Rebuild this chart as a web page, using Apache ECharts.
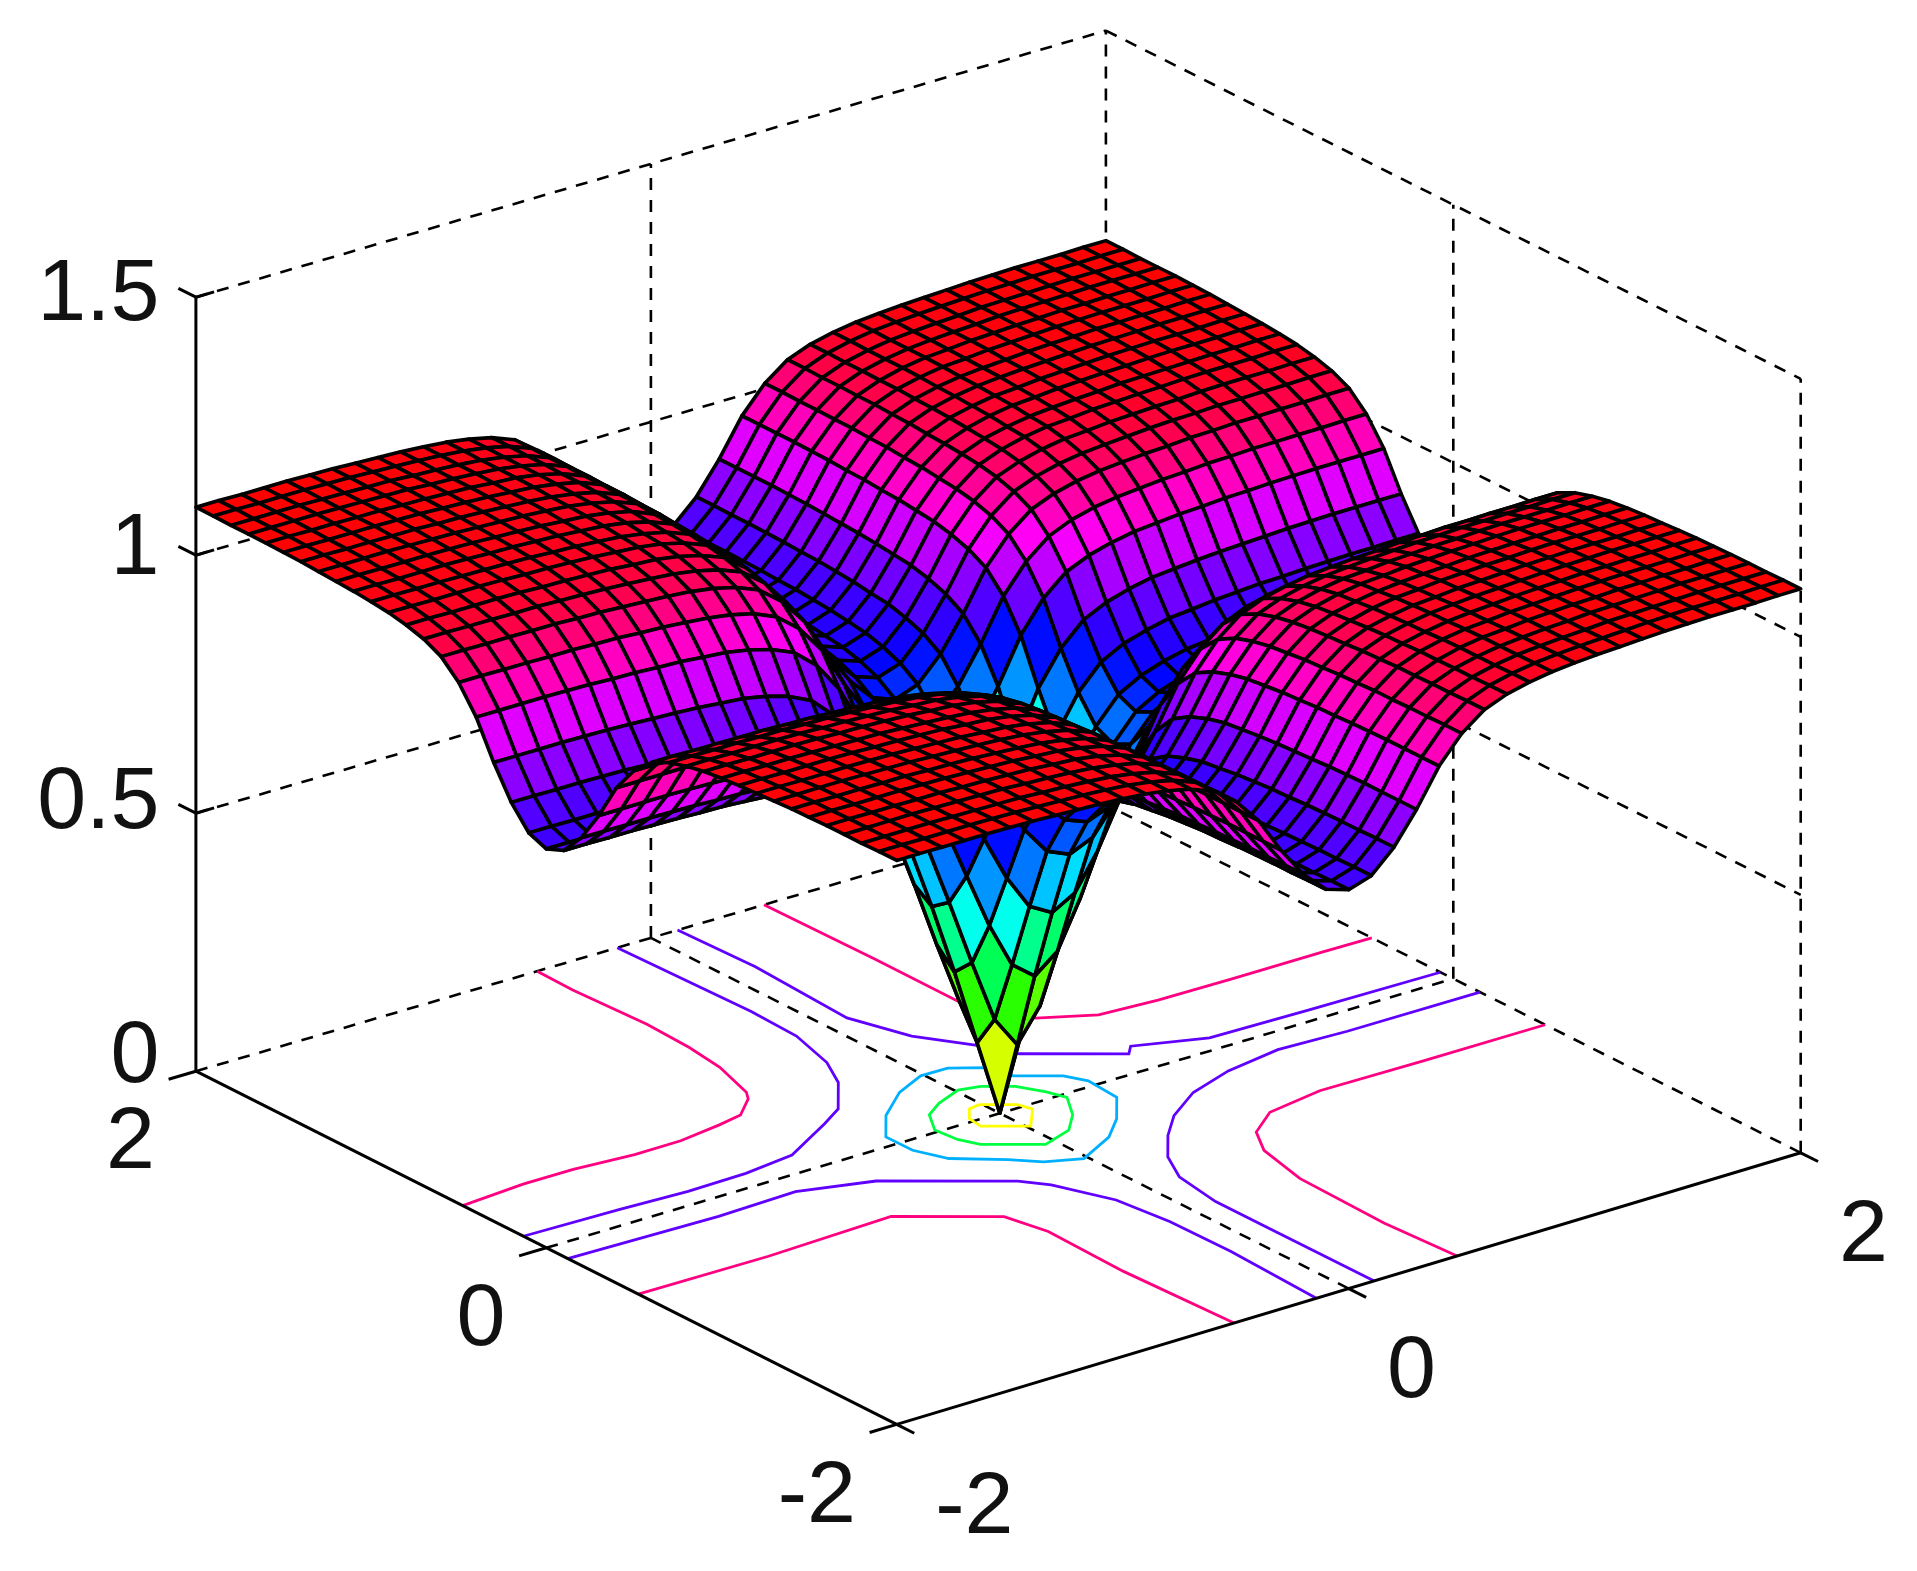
<!DOCTYPE html>
<html>
<head>
<meta charset="utf-8">
<title>Surface</title>
<script src="https://cdn.jsdelivr.net/npm/echarts@6/dist/echarts.min.js"></script>
<style>
    html, body { margin: 0; background: #fff; }
    #chart { width: 1917px; height: 1571px; }
</style>
</head>
<body>
<div id="chart"></div>
<script>
// === Data
const xTicks = [-2, 0, 2];
const yTicks = [-2, 0, 2];
const zTicks = [0, 0.5, 1, 1.5];
const zTickLabels = ['0', '0.5', '1', '1.5'];
const gridStep = 0.1;

// heights on the mesh for |x|, |y| = 0, 0.1 ... 2 (the picture is mirror symmetric in x and y)
const zQuadrant = [
    [0,.15,.30,.44,.57,.65,.70,.725,.74,.75,.755,.76,.763,.766,.768,.77,.771,.772,.772,.773,.773],
    [.15,.212,.335,.465,.589,.667,.716,.740,.755,.765,.770,.775,.778,.781,.782,.784,.785,.786,.786,.787,.787],
    [.30,.335,.424,.533,.644,.716,.762,.785,.798,.808,.812,.817,.820,.823,.824,.826,.827,.828,.828,.829,.829],
    [.44,.465,.533,.622,.720,.785,.827,.848,.861,.870,.874,.878,.881,.883,.885,.887,.888,.889,.889,.889,.889],
    [.57,.589,.644,.720,.806,.865,.903,.922,.934,.942,.946,.950,.952,.955,.956,.958,.959,.960,.960,.960,.960],
    [.65,.667,.716,.785,.865,.919,.955,.974,.985,.992,.996,1.000,1.002,1.005,1.006,1.008,1.008,1.009,1.009,1.010,1.010],
    [.70,.716,.762,.827,.903,.955,.990,1.008,1.019,1.026,1.030,1.033,1.035,1.038,1.039,1.041,1.041,1.042,1.042,1.043,1.043],
    [.725,.740,.785,.848,.922,.974,1.008,1.025,1.036,1.043,1.047,1.050,1.053,1.055,1.056,1.058,1.058,1.059,1.059,1.060,1.060],
    [.74,.755,.798,.861,.934,.985,1.019,1.036,1.047,1.054,1.057,1.061,1.063,1.065,1.066,1.068,1.069,1.069,1.069,1.070,1.070],
    [.75,.765,.808,.870,.942,.992,1.026,1.043,1.054,1.061,1.064,1.068,1.070,1.072,1.073,1.075,1.076,1.076,1.076,1.077,1.077],
    [.755,.770,.812,.874,.946,.996,1.030,1.047,1.057,1.064,1.068,1.071,1.073,1.076,1.077,1.078,1.079,1.080,1.080,1.081,1.081],
    [.76,.775,.817,.878,.950,1.000,1.033,1.050,1.061,1.068,1.071,1.075,1.077,1.079,1.080,1.082,1.083,1.083,1.083,1.084,1.084],
    [.763,.778,.820,.881,.952,1.002,1.035,1.053,1.063,1.070,1.073,1.077,1.079,1.081,1.083,1.084,1.085,1.085,1.085,1.086,1.086],
    [.766,.781,.823,.883,.955,1.005,1.038,1.055,1.065,1.072,1.076,1.079,1.081,1.083,1.085,1.086,1.087,1.088,1.088,1.088,1.088],
    [.768,.782,.824,.885,.956,1.006,1.039,1.056,1.066,1.073,1.077,1.080,1.083,1.085,1.086,1.088,1.088,1.089,1.089,1.090,1.090],
    [.77,.784,.826,.887,.958,1.008,1.041,1.058,1.068,1.075,1.078,1.082,1.084,1.086,1.088,1.089,1.090,1.090,1.090,1.091,1.091],
    [.771,.785,.827,.888,.959,1.008,1.041,1.058,1.069,1.076,1.079,1.083,1.085,1.087,1.088,1.090,1.090,1.091,1.091,1.092,1.092],
    [.772,.786,.828,.889,.960,1.009,1.042,1.059,1.069,1.076,1.080,1.083,1.085,1.088,1.089,1.090,1.091,1.092,1.092,1.092,1.092],
    [.772,.786,.828,.889,.960,1.009,1.042,1.059,1.069,1.076,1.080,1.083,1.085,1.088,1.089,1.090,1.091,1.092,1.092,1.092,1.092],
    [.773,.787,.829,.889,.960,1.010,1.043,1.060,1.070,1.077,1.081,1.084,1.086,1.088,1.090,1.091,1.092,1.092,1.092,1.093,1.093],
    [.773,.787,.829,.889,.960,1.010,1.043,1.060,1.070,1.077,1.081,1.084,1.086,1.088,1.090,1.091,1.092,1.092,1.092,1.093,1.093]
];

// contour lines on the floor, [x, y] pairs
const contourColors = ['#ffff00', '#00ff40', '#00b0ff', '#6000ff', '#ff0080'];
const contour02 = [[[-.01,.106],[-.061,.095],[-.114,.027],[-.124,-.051],[.015,-.158],[.114,-.04],[.097,.025],[-.01,.106]]];
const contour04 = [[[.095,.233],[.012,.255],[-.114,.201],[-.204,.139],[-.273,.018],[-.262,-.098],[-.226,-.182],[-.045,-.321],[.098,-.268],[.193,-.167],[.274,-.029],[.246,.054],[.191,.159],[.095,.233]]];
const contour06 = [[[.219,.353],[.104,.434],[-.013,.437],[-.163,.363],[-.328,.226],[-.447,.072],[-.446,-.08],[-.391,-.216],[-.233,-.35],[-.147,-.442],[-.017,-.504],[.171,-.403],[.293,-.289],[.412,-.135],[.424,.044],[.382,.133],[.244,.239],[.219,.353]]];
const contour08 = [
    [[-.148,2],[-.128,1.261],[-.138,.986],[-.2,.731],[-.278,.564],[-.424,.375],[-.544,.297],[-.807,.142],[-1.036,.109],[-1.296,.102],[-1.588,.119],[-2,.131]],
    [[.117,2],[.131,1.572],[.102,1.009],[.181,.741],[.322,.519],[.383,.385],[.686,.152],[.733,.203],[.997,.094],[1.428,.083],[2,.074]],
    [[2,-.154],[1.416,-.152],[1.122,-.136],[.867,-.183],[.651,-.263],[.47,-.388],[.344,-.517],[.225,-.671],[.147,-.838],[.111,-1.093],[.112,-1.397],[.113,-2]],
    [[-2,-.122],[-1.349,-.141],[-.999,-.127],[-.717,-.222],[-.324,-.524],[-.253,-.623],[-.156,-.869],[-.126,-1.137],[-.122,-1.481],[-.143,-2]]
];
const contour10 = [
    [[-.5,2],[-.505,1.79],[-.488,1.387],[-.499,1.13],[-.523,.924],[-.587,.689],[-.618,.638],[-.729,.538],[-.842,.512],[-1.037,.48],[-1.241,.479],[-1.493,.503],[-1.714,.503],[-2,.477]],
    [[.497,2],[.505,1.378],[.502,.871],[.624,.607],[.817,.497],[1.063,.476],[1.389,.471],[1.78,.473],[2,.469]],
    [[2,-.529],[1.463,-.528],[1.011,-.521],[.754,-.569],[.607,-.682],[.528,-.829],[.472,-1.107],[.459,-1.607],[.48,-2]],
    [[-2,-.525],[-1.43,-.531],[-.871,-.508],[-.558,-.749],[-.518,-.95],[-.529,-1.395],[-.507,-2]]
];
const contourLines = [contour02, contour04, contour06, contour08, contour10];

window.addEventListener('DOMContentLoaded', function () {
    const chart = echarts.init(document.getElementById('chart'));

    // === Projection from data space to the plane of the hidden axes
    // the far corner of the box sits a little off the parallelogram, hence the cross term
    function project(x, y, z) {
        const far = (x + 2) * (y + 2) / 16;
        return [
            998.3 + 226 * x - 175.2 * y + 6 * far,
            1112 - 67.9 * x - 88.3 * y - 516 * z + 5 * far
        ];
    }

    const meshSize = 2 * (zQuadrant.length - 1);
    const half = meshSize / 2;

    function meshZ(i, j) {
        return zQuadrant[Math.abs(i - half)][Math.abs(j - half)];
    }

    function meshPoint(i, j) {
        return project((i - half) * gridStep, (j - half) * gridStep, meshZ(i, j));
    }

    // hsv colour map, red at both ends of the z range
    const zMax = 1.093;
    function faceColor(z) {
        return 'hsl(' + (360 * z / zMax) + ', 100%, 50%)';
    }

    // === Mesh cells, far ones first
    const cells = [];
    for (let i = 0; i < meshSize; i++) {
        for (let j = 0; j < meshSize; j++) {
            cells.push([i, j]);
        }
    }
    cells.sort((a, b) => (67.9 * b[0] + 88.3 * b[1]) - (67.9 * a[0] + 88.3 * a[1]));

    function renderCell(params, api) {
        const i = api.value(0);
        const j = api.value(1);
        const points = [[i, j], [i + 1, j], [i + 1, j + 1], [i, j + 1]].map(c => api.coord(meshPoint(c[0], c[1])));
        return {
            type: 'polygon',
            shape: { points: points },
            style: { fill: faceColor(meshZ(i, j)), stroke: '#000', lineWidth: 3.6, lineJoin: 'round' }
        };
    }

    // === Box, grid and ticks
    const dashed = [];
    const solid = [];
    const zTop = zTicks[zTicks.length - 1];
    const xMin = xTicks[0], xMax = xTicks[xTicks.length - 1];
    const yMin = yTicks[0], yMax = yTicks[yTicks.length - 1];

    xTicks.forEach(t => {
        (t === xMin ? solid : dashed).push([t, yMin, 0, t, yMax, 0]);
        if (t !== xMin) dashed.push([t, yMax, 0, t, yMax, zTop]);
        solid.push([t, yMin, 0, t, yMin - 0.1, 0]);
    });
    yTicks.forEach(t => {
        (t === yMin ? solid : dashed).push([xMin, t, 0, xMax, t, 0]);
        if (t !== yMax) dashed.push([xMax, t, 0, xMax, t, zTop]);
        solid.push([xMin, t, 0, xMin - 0.12, t, 0]);
    });
    zTicks.forEach(t => {
        if (t > 0) {
            dashed.push([xMin, yMax, t, xMax, yMax, t]);
            dashed.push([xMax, yMax, t, xMax, yMin, t]);
            solid.push([xMin, yMax, t, xMin + 0.08, yMax, t]);
            solid.push([xMin, yMax, t, xMin, yMax + 0.1, t]);
        }
    });
    solid.push([xMin, yMax, 0, xMin, yMax, zTop]);

    function renderSegment(width, dash) {
        return function (params, api) {
            const a = api.coord(project(api.value(0), api.value(1), api.value(2)));
            const b = api.coord(project(api.value(3), api.value(4), api.value(5)));
            return {
                type: 'line',
                shape: { x1: a[0], y1: a[1], x2: b[0], y2: b[1] },
                style: { stroke: '#000', lineWidth: width, lineDash: dash }
            };
        };
    }

    // === Contours
    const contourData = [];
    contourLines.forEach((lines, level) => {
        lines.forEach((line, n) => contourData.push([level, n]));
    });

    function renderContour(params, api) {
        const level = api.value(0);
        const line = contourLines[level][api.value(1)];
        return {
            type: 'polyline',
            shape: { points: line.map(p => api.coord(project(p[0], p[1], 0))) },
            style: { fill: null, stroke: contourColors[level], lineWidth: 2.8 }
        };
    }

    // === Tick labels
    const labels = [];
    zTicks.forEach((t, n) => labels.push({ pos: [xMin - 0.16, yMax, t * 0.985 + 0.046], text: zTickLabels[n], align: 'right' }));
    yTicks.forEach(t => labels.push({ pos: [xMin - 0.18, t, -0.118], text: String(t), align: 'right' }));
    xTicks.forEach(t => labels.push({ pos: [t, yMin - 0.22, -0.125], text: String(t), align: 'left' }));

    function renderLabel(params, api) {
        const item = labels[params.dataIndex];
        const p = api.coord(project(item.pos[0], item.pos[1], item.pos[2]));
        return {
            type: 'text',
            style: {
                x: p[0],
                y: p[1],
                text: item.text,
                fill: '#111',
                font: '88px "Liberation Sans", Arial, sans-serif',
                align: item.align,
                verticalAlign: 'middle'
            }
        };
    }

    function customSeries(data, renderItem) {
        return {
            type: 'custom',
            coordinateSystem: 'cartesian2d',
            data: data,
            renderItem: renderItem,
            clip: false,
            silent: true,
            animation: false,
            progressive: 0
        };
    }

    chart.setOption({
        animation: false,
        backgroundColor: '#fff',
        grid: { left: 0, right: 0, top: 0, bottom: 0 },
        xAxis: { type: 'value', min: 0, max: 1917, show: false },
        yAxis: { type: 'value', min: 0, max: 1571, inverse: true, show: false },
        series: [
            customSeries(dashed, renderSegment(2.6, [12, 10])),
            customSeries(contourData, renderContour),
            customSeries(cells, renderCell),
            customSeries(solid, renderSegment(3, null)),
            customSeries(labels.map((l, n) => [n]), renderLabel)
        ]
    });
});
</script>
</body>
</html>
